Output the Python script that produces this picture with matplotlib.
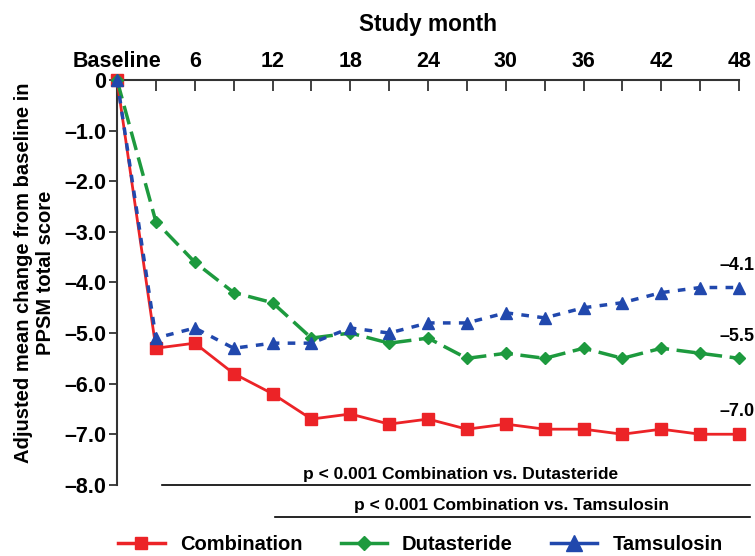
import matplotlib.pyplot as plt
from matplotlib.lines import Line2D

plt.rcParams["font.family"] = ["Liberation Sans", "DejaVu Sans"]
plt.rcParams["font.weight"] = "bold"

# Study months (every 3 months) and adjusted mean change in PPSM total score
months = [0, 3, 6, 9, 12, 15, 18, 21, 24, 27, 30, 33, 36, 39, 42, 45, 48]
combination = [0, -5.3, -5.2, -5.8, -6.2, -6.7, -6.6, -6.8, -6.7, -6.9, -6.8, -6.9, -6.9, -7.0, -6.9, -7.0, -7.0]
dutasteride = [0, -2.8, -3.6, -4.2, -4.4, -5.1, -5.0, -5.2, -5.1, -5.5, -5.4, -5.5, -5.3, -5.5, -5.3, -5.4, -5.5]
tamsulosin = [0, -5.1, -4.9, -5.3, -5.2, -5.2, -4.9, -5.0, -4.8, -4.8, -4.6, -4.7, -4.5, -4.4, -4.2, -4.1, -4.1]

end_labels = ["\u20134.1", "\u20135.5", "\u20137.0"]
y_ticks = [0, -1, -2, -3, -4, -5, -6, -7, -8]
y_tick_labels = ["0", "\u20131.0", "\u20132.0", "\u20133.0", "\u20134.0", "\u20135.0", "\u20136.0", "\u20137.0", "\u20138.0"]

RED = "#ec2327"
GREEN = "#1d9a3e"
BLUE = "#2148ad"

fig = plt.figure(figsize=(7.55, 5.56), dpi=100)
ax = fig.add_axes([0.155, 0.128, 0.824, 0.728])

# Series
ax.plot(months, combination, color=RED, lw=2, marker="s", ms=8, zorder=3, clip_on=False)
ax.plot(months, dutasteride, color=GREEN, lw=2.5, ls=(0, (5.5, 2.2)), marker="D", ms=6.5, zorder=3, clip_on=False)
ax.plot(months, tamsulosin, color=BLUE, lw=2.5, ls=(0, (2.2, 2.4)), marker="^", ms=9, zorder=4, clip_on=False)

# End-point labels
for val, lab in zip([tamsulosin[-1], dutasteride[-1], combination[-1]], end_labels):
    ax.text(49.2, val + 0.44, lab, ha="right", va="center", fontsize=13, fontweight="bold", clip_on=False)

# Axes: x on top
ax.set_xlim(0, 48)
ax.set_ylim(-8, 0)
ax.xaxis.tick_top()
ax.xaxis.set_label_position("top")
ax.set_xticks(months)
ax.set_xticklabels(["Baseline" if m == 0 else (str(m) if m % 6 == 0 else "") for m in months])
ax.tick_params(axis="x", direction="in", length=8, width=1.3, pad=6, labelsize=15.5, colors="#333333")
ax.set_xlabel("Study month", fontsize=16.3, fontweight="bold", labelpad=14)
ax.set_yticks(y_ticks)
ax.set_yticklabels(y_tick_labels)
ax.tick_params(axis="y", direction="out", length=6, width=1.3, pad=2, labelsize=15.5, colors="#333333")
for t in ax.get_xticklabels() + ax.get_yticklabels():
    t.set_color("black")
    t.set_fontweight("bold")

ax.spines["right"].set_visible(False)
ax.spines["bottom"].set_visible(False)
ax.spines["top"].set_linewidth(1.5)
ax.spines["left"].set_linewidth(1.5)
ax.spines["top"].set_color("#333333")
ax.spines["left"].set_color("#333333")

fig.text(0.046, 0.51, "Adjusted mean change from baseline in\nPPSM total score", rotation=90,
         ha="center", va="center", fontsize=14.5, fontweight="bold", multialignment="center")

# Significance bars
ax.plot([3.5, 48.8], [-8.0, -8.0], color="black", lw=1.2, clip_on=False)
ax.text(26.5, -7.79, "p < 0.001 Combination vs. Dutasteride", ha="center", va="center", fontsize=12.5, fontweight="bold")
ax.plot([12.2, 48.8], [-8.64, -8.64], color="black", lw=1.2, clip_on=False)
ax.text(30.4, -8.4, "p < 0.001 Combination vs. Tamsulosin", ha="center", va="center", fontsize=12.5, fontweight="bold", clip_on=False)

# Legend with solid proxy handles
handles = [
    Line2D([], [], color=RED, lw=2.5, marker="s", ms=9),
    Line2D([], [], color=GREEN, lw=2.5, marker="D", ms=7.5),
    Line2D([], [], color=BLUE, lw=2.5, marker="^", ms=11),
]
fig.legend(handles, ["Combination", "Dutasteride", "Tamsulosin"], loc="center",
           bbox_to_anchor=(0.557, 0.021), ncol=3, frameon=False, handlelength=2.3,
           columnspacing=1.9, handletextpad=0.75, prop={"size": 14.5, "weight": "bold"})

fig.savefig("out.png", dpi=100)
